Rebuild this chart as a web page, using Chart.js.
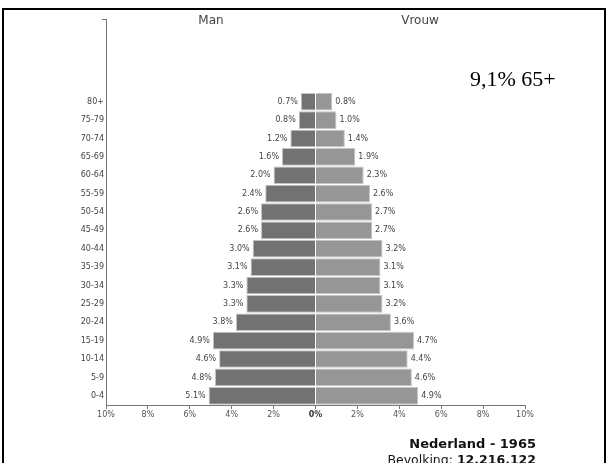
<!DOCTYPE html>
<html>
<head>
<meta charset="utf-8">
<script src="https://cdn.jsdelivr.net/npm/chart.js@4/dist/chart.umd.min.js"></script>
<style>
  html, body { margin: 0; padding: 0; background: #fff; width: 607px; height: 463px; overflow: hidden; }
  #frame { position: absolute; left: 2px; top: 8px; width: 604px; height: 470px; box-sizing: border-box; border: 2px solid #000; border-bottom: none; }
  #wrap { position: absolute; left: 0; top: 0; width: 607px; height: 463px; }
  .t { position: absolute; white-space: nowrap; line-height: 1; }
  #man { left: 211px; top: 13px; transform: translateX(-50%); font: 12px "DejaVu Sans", sans-serif; color: #444; }
  #vrouw { left: 420px; top: 13px; transform: translateX(-50%); font: 12px "DejaVu Sans", sans-serif; color: #444; }
  #old { left: 470px; top: 66px; font: 22px "Liberation Serif", "Times New Roman", serif; color: #000; }
  #land { right: 71px; top: 436px; font: bold 13px "DejaVu Sans", sans-serif; color: #111; }
  #pop { right: 71px; top: 452px; font: 12.5px "DejaVu Sans", sans-serif; color: #111; }
</style>
</head>
<body>
<div id="frame"></div>
<div id="wrap"><canvas id="c" width="607" height="463"></canvas></div>
<div class="t" id="man">Man</div>
<div class="t" id="vrouw">Vrouw</div>
<div class="t" id="old">9,1% 65+</div>
<div class="t" id="land">Nederland - 1965</div>
<div class="t" id="pop">Bevolking: <b>12.216.122</b></div>
<script>
// Age groups, top to bottom
const ageGroups = ['80+', '75-79', '70-74', '65-69', '60-64', '55-59', '50-54', '45-49', '40-44', '35-39', '30-34', '25-29', '20-24', '15-19', '10-14', '5-9', '0-4'];
// Empty rows above the oldest group (axis space without data)
const emptyRows = ['', '', '', ''];
// Percentages (Man / Vrouw)
const manValues = [0.7, 0.8, 1.2, 1.6, 2.0, 2.4, 2.6, 2.6, 3.0, 3.1, 3.3, 3.3, 3.8, 4.9, 4.6, 4.8, 5.1];
const vrouwValues = [0.8, 1.0, 1.4, 1.9, 2.3, 2.6, 2.7, 2.7, 3.2, 3.1, 3.1, 3.2, 3.6, 4.7, 4.4, 4.6, 4.9];
const xTickValues = [-10, -8, -6, -4, -2, 0, 2, 4, 6, 8, 10];

const labels = emptyRows.concat(ageGroups);
const manData = emptyRows.map(() => null).concat(manValues.map(v => -v));
const vrouwData = emptyRows.map(() => null).concat(vrouwValues);

const valueLabels = {
  id: 'valueLabels',
  afterDatasetsDraw(chart) {
    const ctx = chart.ctx;
    ctx.save();
    ctx.font = '8px "DejaVu Sans", sans-serif';
    ctx.fillStyle = '#444';
    ctx.textBaseline = 'middle';
    chart.data.datasets.forEach((ds, di) => {
      const meta = chart.getDatasetMeta(di);
      meta.data.forEach((el, i) => {
        const v = ds.data[i];
        if (v === null || v === undefined) return;
        const txt = Math.abs(v).toFixed(1) + '%';
        if (v < 0) { ctx.textAlign = 'right'; ctx.fillText(txt, el.x - 3, el.y); }
        else { ctx.textAlign = 'left'; ctx.fillText(txt, el.x + 3, el.y); }
      });
    });
    ctx.restore();
  }
};

const axisCap = {
  id: 'axisCap',
  afterDraw(chart) {
    const ctx = chart.ctx, a = chart.chartArea;
    ctx.save();
    ctx.strokeStyle = '#777';
    ctx.lineWidth = 1;
    ctx.beginPath();
    ctx.moveTo(a.left - 4, Math.round(a.top) + 0.5);
    ctx.lineTo(a.left + 0.5, Math.round(a.top) + 0.5);
    ctx.stroke();
    ctx.restore();
  }
};

new Chart(document.getElementById('c'), {
  type: 'bar',
  data: {
    labels: labels,
    datasets: [
      { label: 'Man', data: manData, backgroundColor: '#727272', borderColor: '#c4c4c4', borderWidth: 1, borderSkipped: 'start' },
      { label: 'Vrouw', data: vrouwData, backgroundColor: '#969696', borderColor: '#c4c4c4', borderWidth: 1, borderSkipped: 'start' }
    ]
  },
  options: {
    indexAxis: 'y',
    responsive: false,
    animation: false,
    events: [],
    layout: { padding: { left: 0, right: 82, top: 19, bottom: 0 } },
    datasets: { bar: { categoryPercentage: 1.0, barPercentage: 0.96 } },
    plugins: { legend: { display: false }, tooltip: { enabled: false }, title: { display: false } },
    scales: {
      x: {
        stacked: true,
        min: -10, max: 10,
        afterBuildTicks: s => { s.ticks = xTickValues.map(v => ({ value: v })); },
        afterFit: s => { s.height = 58; },
        grid: { display: true, drawOnChartArea: false, drawTicks: true, tickLength: 4, color: '#777' },
        border: { display: true, color: '#777', width: 1 },
        ticks: {
          autoSkip: false, maxRotation: 0, padding: 1,
          color: ctx => ctx.tick && ctx.tick.value === 0 ? '#333' : '#555',
          font: ctx => ({ family: '"DejaVu Sans", sans-serif', size: 8, weight: ctx.tick && ctx.tick.value === 0 ? 'bold' : 'normal' }),
          callback: v => Math.abs(v) + '%'
        }
      },
      y: {
        stacked: true,
        afterFit: s => { s.width = 106; },
        grid: { display: false, drawTicks: false },
        border: { display: true, color: '#777', width: 1 },
        ticks: { autoSkip: false, padding: 2, color: '#444', font: { family: '"DejaVu Sans", sans-serif', size: 8 } }
      }
    }
  },
  plugins: [valueLabels, axisCap]
});
</script>
</body>
</html>
